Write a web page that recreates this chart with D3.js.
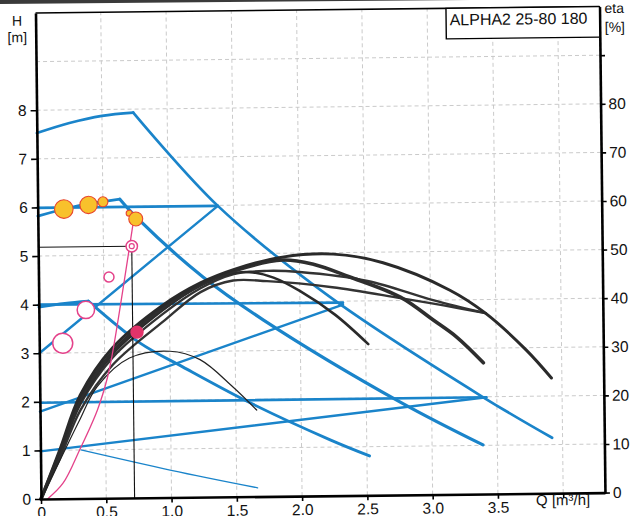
<!DOCTYPE html>
<html>
<head>
<meta charset="utf-8">
<script src="https://cdn.jsdelivr.net/npm/d3@7"></script>
<style>
  html, body { margin: 0; padding: 0; background: #fff; }
  svg { display: block; font-family: "Liberation Sans", Arial, sans-serif; }
</style>
</head>
<body>
<div id="chart"></div>
<script>
// axis ticks and labels
const qTicks = [0, 0.5, 1.0, 1.5, 2.0, 2.5, 3.0, 3.5, 4.0];
const qTickLabels = ["0", "0.5", "1.0", "1.5", "2.0", "2.5", "3.0", "3.5", ""];
const hTicks = [0, 1, 2, 3, 4, 5, 6, 7, 8];
const etaTicks = [0, 10, 20, 30, 40, 50, 60, 70, 80, 90];
const etaTickLabels = ["0", "10", "20", "30", "40", "50", "60", "70", "80", ""];
const gridH = [1, 2, 3, 4, 5, 6, 7, 8, 9];
const gridQ = [0.5, 1.0, 1.5, 2.0, 2.5, 3.0, 3.5, 4.0];

// pump curves, [Q m3/h, H m]
const maxRise = [[0, 7.53], [0.25, 7.73], [0.5, 7.87], [0.74, 7.93]];
const maxFall = [[0.74, 7.93], [1.38, 5.99], [2.23, 4.09], [3.39, 2.0], [3.92, 1.14]];
const speed2Rise = [[0, 5.82], [0.3, 6.02], [0.63, 6.15]];
const speed2Fall = [[0.63, 6.15], [0.76, 5.76], [1.26, 4.53], [1.72, 3.63], [2.76, 1.91], [3.39, 1.01]];
const speed1Rise = [[0, 3.95], [0.2, 4.02], [0.38, 4.06]];
const speed1Fall = [[0.38, 4.06], [0.77, 3.19], [1.10, 2.68], [1.61, 1.93], [2.22, 1.15], [2.52, 0.81]];
const cp3 = [[0, 5.99], [1.38, 5.99]];
const cp2 = [[0, 4.0], [2.33, 3.97]];
const cp1 = [[0, 1.98], [3.42, 1.99]];
const pp3 = [[0, 3.0], [1.38, 5.99]];
const pp2 = [[0, 1.8], [2.33, 3.93]];
const pp1 = [[0, 0.98], [3.42, 1.99]];
const thinBlue = [[0.31, 1.0], [1.0, 0.56], [1.66, 0.18]];

// efficiency curves, [Q m3/h, eta %]
const etaA = [[0, 0], [0.15, 10.2], [0.31, 21.3], [0.56, 30.9], [0.95, 39.6], [1.24, 44.1], [1.5, 46.8], [1.87, 49.2], [2.26, 49.7], [2.64, 47.8], [3.15, 42.0], [3.42, 37.2], [3.73, 29.5], [3.92, 23.7]];
const etaB = [[0, 0], [0.15, 9.6], [0.31, 20.4], [0.56, 30.0], [0.95, 39.0], [1.24, 43.7], [1.5, 46.5], [1.87, 48.6], [2.1, 47.7], [2.38, 45.0], [2.77, 40.7], [3.02, 35.9], [3.2, 32.3], [3.4, 27.0]];
const etaC1 = [[0, 0], [0.15, 9.0], [0.31, 19.4], [0.56, 28.9], [0.95, 37.8], [1.24, 43.0], [1.49, 45.8], [1.75, 46.4], [2.0, 46.1], [2.52, 44.1], [3.02, 40.0], [3.42, 37.2]];
const etaC2 = [[0, 0], [0.15, 8.4], [0.31, 18.2], [0.56, 27.4], [0.95, 36.2], [1.24, 42.2], [1.49, 44.5], [1.75, 44.3], [2.25, 42.9], [2.77, 40.5], [3.1, 38.9], [3.42, 37.2]];
const etaD = [[0, 0], [0.15, 9.3], [0.31, 20.0], [0.56, 29.6], [0.95, 38.6], [1.24, 43.6], [1.45, 45.8], [1.62, 46.2], [1.8, 45.0], [2.0, 42.2], [2.27, 37.2], [2.52, 31.1]];
const etaE = [[0, 0], [0.15, 8.0], [0.3, 16.0], [0.44, 23.0], [0.69, 28.8], [1.0, 30.1], [1.23, 28.3], [1.48, 22.6], [1.66, 17.8]];

// pink curve and marked points, [Q, H]
const pinkCurve = [[0.05, 0], [0.17, 0.32], [0.30, 1.0], [0.44, 1.82], [0.52, 2.49], [0.565, 3.05], [0.73, 5.66]];
const yellowQ = [0.20, 0.39, 0.50, 0.70, 0.75];
const yellowH = [5.96, 6.04, 6.10, 5.86, 5.74];
const ringQ = [0.54, 0.36, 0.18];
const ringH = [4.55, 3.88, 3.20];
const dutyQ = 0.717, dutyH = 5.18;
const redDot = [0.75, 3.41];

// marker sizes (px)
const yellowR = [9.3, 8.7, 5, 3, 7];
const ringR = [5, 8.7, 10];

const width = 634, height = 516;
const x = d3.scaleLinear().domain([0, 4.32]).range([41, 605]);
const y = d3.scaleLinear().domain([0, 10]).range([499, 13]);
const yEta = d3.scaleLinear().domain([0, 100]).range([499, 13]);

const svg = d3.select("#chart").append("svg")
    .attr("width", width)
    .attr("height", height);

// scan edge at the top
svg.append("path")
    .attr("d", "M0,0 L470,0 L0,4 Z")
    .attr("fill", "#3a3a3a");

// the scan is a little tilted
const g = svg.append("g").attr("transform", "rotate(-0.65, 41, 499)");

// grid
g.selectAll(".gh").data(gridH).enter().append("line")
    .attr("x1", x(0)).attr("x2", x(4.32))
    .attr("y1", d => y(d)).attr("y2", d => y(d))
    .attr("stroke", "#c4c4c4").attr("stroke-width", 0.9).attr("stroke-dasharray", "4,3");
g.selectAll(".gq").data(gridQ).enter().append("line")
    .attr("x1", d => x(d)).attr("x2", d => x(d))
    .attr("y1", y(0)).attr("y2", y(10))
    .attr("stroke", "#c4c4c4").attr("stroke-width", 0.9).attr("stroke-dasharray", "4,3");

const smooth = d3.line().x(d => x(d[0])).y(d => y(d[1])).curve(d3.curveCatmullRom.alpha(0.5));
const straight = d3.line().x(d => x(d[0])).y(d => y(d[1]));
const etaLine = d3.line().x(d => x(d[0])).y(d => yEta(d[1])).curve(d3.curveCatmullRom.alpha(0.5));

const blue = "#1a84ca";
const blueCurves = [
    [maxRise, smooth, 2.7], [maxFall, smooth, 2.7],
    [speed2Rise, smooth, 2.7], [speed2Fall, smooth, 3.2],
    [speed1Rise, smooth, 2.7], [speed1Fall, smooth, 2.9],
    [cp3, straight, 2.6], [cp2, straight, 2.6], [cp1, straight, 2.6],
    [pp3, straight, 2.4], [pp2, straight, 2.4], [pp1, straight, 2.4],
    [thinBlue, smooth, 1.3]
];
blueCurves.forEach(([pts, gen, w]) => {
    g.append("path").attr("d", gen(pts))
        .attr("fill", "none").attr("stroke", blue)
        .attr("stroke-width", w).attr("stroke-linecap", "round");
});

// efficiency curves
const etaCurves = [
    [etaC2, 2.4, "#333"], [etaC1, 2.4, "#333"], [etaD, 2.6, "#2a2a2a"],
    [etaB, 3.6, "#2e2e2e"], [etaA, 3.0, "#2a2a2a"], [etaE, 1.2, "#222"]
];
etaCurves.forEach(([pts, w, c]) => {
    g.append("path").attr("d", etaLine(pts))
        .attr("fill", "none").attr("stroke", c)
        .attr("stroke-width", w).attr("stroke-linecap", "round");
});

// pink curve
g.append("path").attr("d", smooth(pinkCurve))
    .attr("fill", "none").attr("stroke", "#e4428a").attr("stroke-width", 1.3);

// duty point guide lines
g.append("line")
    .attr("x1", x(0)).attr("x2", x(dutyQ))
    .attr("y1", y(dutyH)).attr("y2", y(dutyH))
    .attr("stroke", "#111").attr("stroke-width", 1);
g.append("line")
    .attr("x1", x(dutyQ)).attr("x2", x(dutyQ))
    .attr("y1", y(0)).attr("y2", y(dutyH))
    .attr("stroke", "#111").attr("stroke-width", 1.1);

// markers
g.selectAll(".yc").data(yellowQ).enter().append("circle")
    .attr("cx", d => x(d)).attr("cy", (d, i) => y(yellowH[i]))
    .attr("r", (d, i) => yellowR[i])
    .attr("fill", "#f8c12c").attr("stroke", "#e8452e").attr("stroke-width", 1.1);
g.selectAll(".rc").data(ringQ).enter().append("circle")
    .attr("cx", d => x(d)).attr("cy", (d, i) => y(ringH[i]))
    .attr("r", (d, i) => ringR[i])
    .attr("fill", "#fff").attr("stroke", "#e4428a").attr("stroke-width", 1.5);
g.append("circle").attr("cx", x(dutyQ)).attr("cy", y(dutyH)).attr("r", 5.7)
    .attr("fill", "#fff").attr("stroke", "#e4428a").attr("stroke-width", 1.5);
g.append("circle").attr("cx", x(dutyQ)).attr("cy", y(dutyH)).attr("r", 2.5)
    .attr("fill", "none").attr("stroke", "#e4428a").attr("stroke-width", 1.2);
g.append("circle").attr("cx", x(redDot[0])).attr("cy", y(redDot[1])).attr("r", 6.7)
    .attr("fill", "#e2336a");

// frame and axes
const styleAxis = sel => {
    sel.select(".domain").attr("stroke", "#000").attr("stroke-width", 2.6);
    sel.selectAll(".tick line").attr("stroke", "#000").attr("stroke-width", 1.6);
    sel.selectAll(".tick text").attr("fill", "#111")
        .style("font-size", "15.5px").style("font-family", "'Liberation Sans', Arial, sans-serif");
};

g.append("line")
    .attr("x1", x(0)).attr("x2", x(4.32))
    .attr("y1", y(10)).attr("y2", y(10))
    .attr("stroke", "#000").attr("stroke-width", 1.6);

g.append("g").attr("transform", `translate(0, ${y(0)})`)
    .call(d3.axisBottom(x).tickValues(qTicks).tickSize(5).tickSizeOuter(0).tickPadding(3)
        .tickFormat((d, i) => qTickLabels[i]))
    .call(styleAxis);

g.append("g").attr("transform", `translate(${x(0)}, 0)`)
    .call(d3.axisLeft(y).tickValues(hTicks).tickSize(6).tickSizeOuter(0).tickPadding(4)
        .tickFormat((d, i) => String(hTicks[i])))
    .call(styleAxis);

g.append("g").attr("transform", `translate(${x(4.32)}, 0)`)
    .call(d3.axisRight(yEta).tickValues(etaTicks).tickSize(5).tickSizeOuter(0).tickPadding(3)
        .tickFormat((d, i) => etaTickLabels[i]))
    .call(styleAxis);

// title box
g.append("rect")
    .attr("x", 451.5).attr("y", y(10))
    .attr("width", x(4.32) - 451.5).attr("height", 30.5)
    .attr("fill", "#fff").attr("stroke", "#000").attr("stroke-width", 1.4);
g.append("text").attr("x", 455).attr("y", 30)
    .style("font-size", "16px").attr("fill", "#111")
    .text("ALPHA2 25-80 180");

// axis titles
const label = (tx, ty, s, size, anchor) => g.append("text")
    .attr("x", tx).attr("y", ty)
    .attr("text-anchor", anchor)
    .style("font-size", size).attr("fill", "#111").text(s);
label(22.5, 25.5, "H", "14px", "middle");
label(22.5, 42, "[m]", "14px", "middle");
label(610, 19.5, "eta", "14px", "start");
label(610, 38.5, "[%]", "14px", "start");
label(536, 511, "Q [m³/h]", "15px", "start");
</script>
</body>
</html>
